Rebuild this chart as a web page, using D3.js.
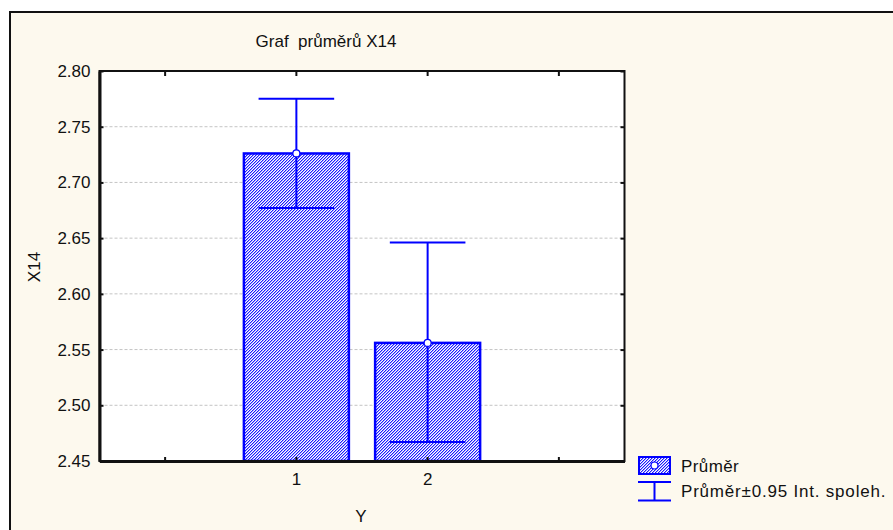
<!DOCTYPE html>
<html>
<head>
<meta charset="utf-8">
<script src="https://cdn.jsdelivr.net/npm/d3@7"></script>
<style>
  html, body { margin: 0; padding: 0; background: #ffffff; }
  svg { display: block; }
  text { font-family: "Liberation Sans", Arial, sans-serif; fill: #111; }
</style>
</head>
<body>
<script>
// Group means of X14 by Y with 95% confidence intervals
const categories = ["1", "2"];
const slots = ["lo", "1", "2", "hi"];          // empty slots left and right of the groups
const means = [2.726, 2.556];
const ciLow = [2.677, 2.467];
const ciHigh = [2.775, 2.646];
const yTicks = [2.45, 2.50, 2.55, 2.60, 2.65, 2.70, 2.75, 2.80];
const titleText = "Graf  průměrů X14";
const yLabel = "X14";
const xLabel = "Y";
const legendLabels = ["Průměr", "Průměr±0.95 Int. spoleh."];

const W = 893, H = 530;
const plot = { left: 99.5, right: 624.5, top: 71, bottom: 461 };
const blue = "#0000ff";

const svg = d3.select("body").append("svg")
  .attr("width", W).attr("height", H);

// fine pixel hatch used for the bar fill: "/" diagonals with a 3 px period
const defs = svg.append("defs");
const pat = defs.append("pattern")
  .attr("id", "hatch").attr("patternUnits", "userSpaceOnUse")
  .attr("width", 3).attr("height", 3);
pat.append("rect").attr("width", 3).attr("height", 3).attr("fill", "#ffffff");
const hatchCells = [];
for (let r = 0; r < 3; r++) {
  hatchCells.push({ x: (2 - r + 3) % 3, y: r, c: "#1a1aff" });
  hatchCells.push({ x: (3 - r) % 3, y: r, c: "#a4a4ff" });
}
pat.selectAll("rect.px").data(hatchCells).join("rect").attr("class", "px")
  .attr("x", d => d.x).attr("y", d => d.y).attr("width", 1).attr("height", 1)
  .attr("fill", d => d.c).attr("shape-rendering", "crispEdges");

// outer panel
svg.append("rect")
  .attr("x", 10).attr("y", 12).attr("width", W + 20).attr("height", H + 20)
  .attr("fill", "#fdf9ee").attr("stroke", "#111").attr("stroke-width", 2);

const x = d3.scaleBand().domain(slots).range([plot.left, plot.right]).padding(0);
const y = d3.scaleLinear().domain([2.45, 2.80]).range([plot.bottom, plot.top]);

// plot background
svg.append("rect")
  .attr("x", plot.left).attr("y", plot.top)
  .attr("width", plot.right - plot.left).attr("height", plot.bottom - plot.top)
  .attr("fill", "#ffffff");

// horizontal grid
svg.append("g").selectAll("line")
  .data(yTicks.filter(t => t > 2.45 && t < 2.80))
  .join("line")
  .attr("x1", plot.left).attr("x2", plot.right)
  .attr("y1", d => y(d)).attr("y2", d => y(d))
  .attr("stroke", "#c4c4c4").attr("stroke-width", 1)
  .attr("stroke-dasharray", "3,2");

// bars
const data = categories.map((c, i) => ({ c, m: means[i], lo: ciLow[i], hi: ciHigh[i] }));
const bw = x.bandwidth() * 0.8;
const cx = d => x(d.c) + x.bandwidth() / 2;

svg.append("g").selectAll("rect")
  .data(data).join("rect")
  .attr("x", d => cx(d) - bw / 2)
  .attr("y", d => y(d.m))
  .attr("width", bw)
  .attr("height", d => y(2.45) - y(d.m))
  .attr("fill", "url(#hatch)")
  .attr("stroke", blue).attr("stroke-width", 2.5);

// confidence interval whiskers
const capW = bw * 0.72;
const eb = svg.append("g").attr("stroke", blue).attr("stroke-width", 2);
eb.selectAll(".v").data(data).join("line")
  .attr("x1", cx).attr("x2", cx)
  .attr("y1", d => y(d.hi)).attr("y2", d => y(d.lo));
eb.selectAll(".t").data(data).join("line")
  .attr("x1", d => cx(d) - capW / 2).attr("x2", d => cx(d) + capW / 2)
  .attr("y1", d => y(d.hi)).attr("y2", d => y(d.hi));
eb.selectAll(".b").data(data).join("line")
  .attr("x1", d => cx(d) - capW / 2).attr("x2", d => cx(d) + capW / 2)
  .attr("y1", d => y(d.lo)).attr("y2", d => y(d.lo));

// mean markers
svg.append("g").selectAll("circle")
  .data(data).join("circle")
  .attr("cx", cx).attr("cy", d => y(d.m)).attr("r", 3.5)
  .attr("fill", "#ffffff").attr("stroke", blue).attr("stroke-width", 1.2);

// plot frame
svg.append("rect")
  .attr("x", plot.left).attr("y", plot.top)
  .attr("width", plot.right - plot.left).attr("height", plot.bottom - plot.top)
  .attr("fill", "none").attr("stroke", "#111").attr("stroke-width", 2);

// axes with inward ticks
const yAxisL = d3.axisLeft(y).tickValues(yTicks).tickFormat(d3.format(".2f"))
  .tickSizeInner(-4).tickSizeOuter(0).tickPadding(9);
const gy = svg.append("g").attr("transform", `translate(${plot.left},0)`).call(yAxisL);
gy.select(".domain").attr("stroke", "#111").attr("stroke-width", 3);
gy.selectAll(".tick line").attr("stroke", "#111").attr("stroke-width", 2);
gy.selectAll(".tick text").attr("font-size", 17).attr("fill", "#111")
  .attr("font-family", "Liberation Sans, Arial, sans-serif");

const yAxisR = d3.axisRight(y).tickValues(yTicks).tickFormat("")
  .tickSizeInner(-4).tickSizeOuter(0);
const gyr = svg.append("g").attr("transform", `translate(${plot.right},0)`).call(yAxisR);
gyr.select(".domain").remove();
gyr.selectAll(".tick line").attr("stroke", "#111").attr("stroke-width", 2);

const xAxisB = d3.axisBottom(x).tickFormat(d => categories.includes(d) ? d : "")
  .tickSizeInner(-4).tickSizeOuter(0).tickPadding(12);
const gx = svg.append("g").attr("transform", `translate(0,${plot.bottom})`).call(xAxisB);
gx.select(".domain").attr("stroke", "#111").attr("stroke-width", 3);
gx.selectAll(".tick line").attr("stroke", "#111").attr("stroke-width", 2);
gx.selectAll(".tick text").attr("font-size", 17).attr("fill", "#111")
  .attr("font-family", "Liberation Sans, Arial, sans-serif");

const xAxisT = d3.axisTop(x).tickFormat("").tickSizeInner(-5).tickSizeOuter(0);
const gxt = svg.append("g").attr("transform", `translate(0,${plot.top})`).call(xAxisT);
gxt.select(".domain").remove();
gxt.selectAll(".tick line").attr("stroke", "#111").attr("stroke-width", 2);

// titles
svg.append("text").attr("x", 326).attr("y", 47).attr("text-anchor", "middle")
  .attr("font-size", 17).attr("xml:space", "preserve").style("white-space", "pre")
  .text(titleText);
svg.append("text").attr("transform", "translate(40,267) rotate(-90)")
  .attr("text-anchor", "middle").attr("font-size", 17).text(yLabel);
svg.append("text").attr("x", 361).attr("y", 522).attr("text-anchor", "middle")
  .attr("font-size", 17).text(xLabel);

// legend
const lg = svg.append("g");
lg.append("rect").attr("x", 639).attr("y", 457).attr("width", 31).attr("height", 17)
  .attr("fill", "url(#hatch)").attr("stroke", blue).attr("stroke-width", 2);
lg.append("circle").attr("cx", 654.5).attr("cy", 465.5).attr("r", 3.5)
  .attr("fill", "#ffffff").attr("stroke", blue).attr("stroke-width", 1.2);
const lw = lg.append("g").attr("stroke", blue).attr("stroke-width", 2);
lw.append("line").attr("x1", 638).attr("x2", 671).attr("y1", 482).attr("y2", 482);
lw.append("line").attr("x1", 638).attr("x2", 671).attr("y1", 500.5).attr("y2", 500.5);
lw.append("line").attr("x1", 654.5).attr("x2", 654.5).attr("y1", 482).attr("y2", 500.5);
lg.append("text").attr("x", 681).attr("y", 472).attr("font-size", 17)
  .attr("letter-spacing", 0.4).text(legendLabels[0]);
lg.append("text").attr("x", 681).attr("y", 497).attr("font-size", 17)
  .attr("letter-spacing", 0.8).text(legendLabels[1]);
</script>
</body>
</html>
